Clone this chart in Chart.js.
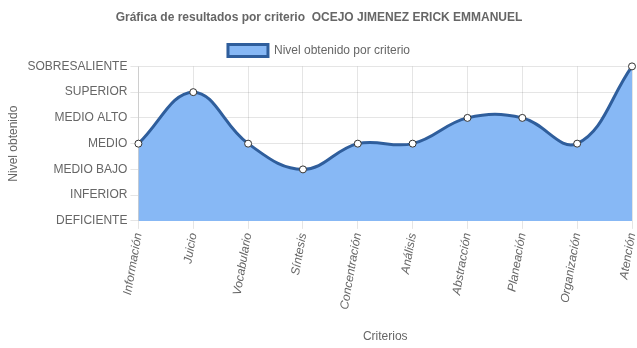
<!DOCTYPE html>
<html>
<head>
<meta charset="utf-8">
<script src="https://cdn.jsdelivr.net/npm/chart.js@4"></script>
<style>
  html, body { margin: 0; padding: 0; background: #fff; }
  #wrap { width: 637px; height: 348px; }
</style>
</head>
<body>
<div id="wrap"><canvas id="grafica"></canvas></div>
<script>
const criterios = ['Información', 'Juicio', 'Vocabulario', 'Síntesis', 'Concentración', 'Análisis', 'Abstracción', 'Planeación', 'Organización', 'Atención'];
const niveles = ['DEFICIENTE', 'INFERIOR', 'MEDIO BAJO', 'MEDIO', 'MEDIO ALTO', 'SUPERIOR', 'SOBRESALIENTE'];
// indice dentro de niveles para cada criterio
const resultados = [3, 5, 3, 2, 3, 3, 4, 4, 3, 6];

Chart.defaults.font.family = 'Arial, "Liberation Sans", sans-serif';
Chart.defaults.color = '#666';

const ctx = document.getElementById('grafica').getContext('2d');
const grafica = new Chart(ctx, {
    type: 'line',
    data: {
        labels: criterios,
        datasets: [
            {
                label: 'Nivel obtenido por criterio',
                data: resultados,
                fill: true,
                tension: 0.4,
                clip: 5,
                backgroundColor: '#87b8f5',
                borderColor: '#2f5e9c',
                borderWidth: 3,
                pointBackgroundColor: '#fff',
                pointBorderColor: '#333',
                pointBorderWidth: 1,
                pointRadius: 3.5
            }
        ]
    },
    options: {
        responsive: true,
        maintainAspectRatio: false,
        animation: false,
        layout: { padding: { left: 2, right: 1 } },
        scales: {
            y: {
                min: 0,
                max: 6,
                ticks: {
                    stepSize: 1,
                    font: { size: 12 },
                    callback: v => niveles[v]
                },
                title: { display: true, text: 'Nivel obtenido', font: { size: 12 } }
            },
            x: {
                ticks: { font: { size: 12, style: 'italic' }, maxRotation: 80, minRotation: 80 },
                title: { display: true, text: 'Criterios', font: { size: 12 }, padding: { top: 16, bottom: 4 } },
                // la ultima etiqueta puede salirse del area, no reservar margen derecho
                afterFit: scale => { scale.paddingRight = 0; }
            }
        },
        plugins: {
            title: {
                display: true,
                text: 'Gráfica de resultados por criterio  OCEJO JIMENEZ ERICK EMMANUEL',
                font: { size: 12, weight: 'bold' },
                padding: { top: 10, bottom: 11 }
            },
            legend: {
                labels: { boxWidth: 40, font: { size: 12 }, padding: 9 }
            }
        }
    }
});
</script>
</body>
</html>
